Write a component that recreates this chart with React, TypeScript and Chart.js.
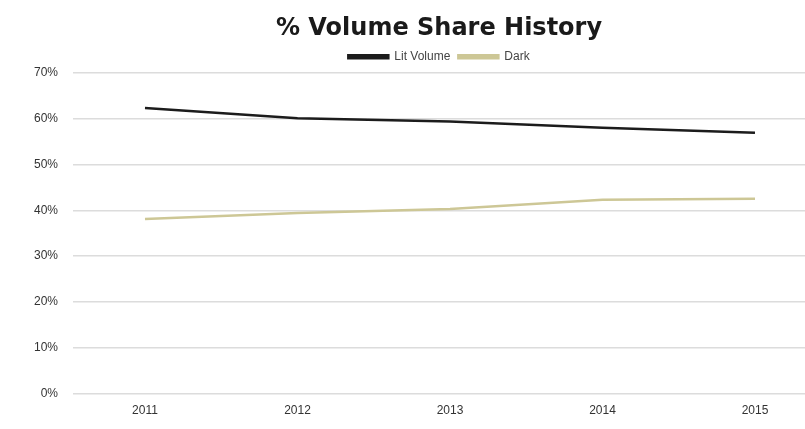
import React, { useEffect, useRef } from "react";
import { Chart, registerables } from "chart.js";

Chart.register(...registerables);

const years = [2011, 2012, 2013, 2014, 2015];
const seriesNames = ["Lit Volume", "Dark"];
const litShare = [62.3, 60.1, 59.4, 58.0, 56.9];
const darkShare = [38.1, 39.4, 40.3, 42.3, 42.5];
const yTicks = [0, 10, 20, 30, 40, 50, 60, 70];
const titleText = "% Volume Share History";

const FONT = "'Liberation Sans', Arial, sans-serif";
const TITLE_FONT = "'DejaVu Sans', sans-serif";

export default function App() {
  const ref = useRef<HTMLCanvasElement | null>(null);

  useEffect(() => {
    if (!ref.current) return;
    const toPts = (vals: number[]) => years.map((y, i) => ({ x: y, y: vals[i] }));
    const chart = new Chart(ref.current, {
      type: "line",
      data: {
        datasets: [
          {
            label: seriesNames[0],
            data: toPts(litShare),
            borderColor: "#1c1c1c",
            backgroundColor: "#1c1c1c",
            borderWidth: 2.5,
            pointRadius: 0,
            tension: 0,
          },
          {
            label: seriesNames[1],
            data: toPts(darkShare),
            borderColor: "#cdc796",
            backgroundColor: "#cdc796",
            borderWidth: 2.5,
            pointRadius: 0,
            tension: 0,
          },
        ],
      },
      options: {
        animation: false,
        responsive: true,
        maintainAspectRatio: false,
        layout: { padding: { left: 0, right: 0, top: 0, bottom: 1 } },
        plugins: {
          tooltip: { enabled: false },
          title: {
            display: true,
            fullSize: false,
            text: titleText,
            color: "#1a1a1a",
            font: { family: TITLE_FONT, size: 24, weight: "bold" },
            padding: { top: 14, bottom: 0 },
          },
          legend: {
            display: true,
            fullSize: false,
            position: "top",
            labels: {
              color: "#444",
              font: { family: FONT, size: 12 },
              boxWidth: 40,
              boxHeight: 3,
              padding: 8,
            },
          },
        },
        scales: {
          x: {
            type: "linear",
            min: 2010.528,
            max: 2015.328,
            grid: { display: false, drawTicks: false },
            border: { display: false },
            ticks: {
              stepSize: 1,
              includeBounds: false,
              padding: 10,
              color: "#333",
              font: { family: FONT, size: 12 },
              callback: (v: any) => (Number.isInteger(v) ? String(v) : ""),
            },
          },
          y: {
            min: yTicks[0],
            max: yTicks[yTicks.length - 1],
            afterFit: (s: any) => {
              s.width = 73;
            },
            grid: { color: "#dcdcdc", lineWidth: 1.5, drawTicks: false },
            border: { display: false },
            ticks: {
              stepSize: 10,
              padding: 15,
              color: "#333",
              font: { family: FONT, size: 12 },
              callback: (v: any) => v + "%",
            },
          },
        },
      },
    });
    return () => chart.destroy();
  }, []);

  return (
    <div style={{ position: "fixed", left: 0, top: 0, width: 805, height: 429, background: "#fff" }}>
      <canvas ref={ref} />
    </div>
  );
}
